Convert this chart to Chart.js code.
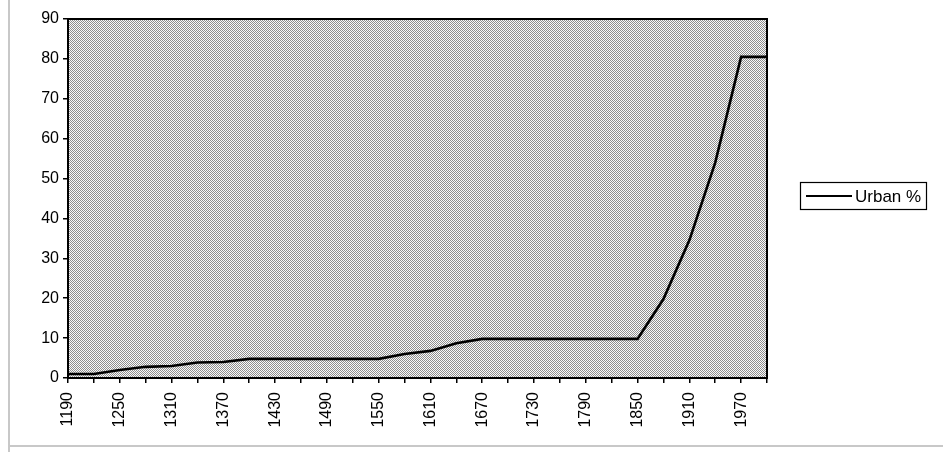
<!DOCTYPE html>
<html lang="en">
<head>
  <meta charset="UTF-8" />
  <title>Urban %</title>
  <style>
    body { margin: 0; background: #fff; }
    #wrap { width: 943px; height: 452px; position: relative; }
  </style>
</head>
<body>
  <div id="wrap">
    <canvas id="myChart" width="943" height="452"></canvas>
  </div>

  <script src="https://cdn.jsdelivr.net/npm/chart.js"></script>
  <script>
    // years (every 30 years), only every 2nd one gets a label
    const years = [1190, 1220, 1250, 1280, 1310, 1340, 1370, 1400, 1430, 1460,
      1490, 1520, 1550, 1580, 1610, 1640, 1670, 1700, 1730, 1760,
      1790, 1820, 1850, 1880, 1910, 1940, 1970, 2000];
    const urbanPct = [1, 1, 2, 2.8, 3, 3.9, 4, 4.8, 4.8, 4.8,
      4.8, 4.8, 4.8, 6, 6.8, 8.7, 9.8, 9.8, 9.8, 9.8,
      9.8, 9.8, 9.8, 19.8, 34.5, 54, 80.5, 80.5];
    const yTicks = [0, 10, 20, 30, 40, 50, 60, 70, 80, 90];
    const seriesName = 'Urban %';

    const FONT = '"Liberation Sans", Arial, sans-serif';

    // halftone-ish background like the scan
    function makePattern() {
      const c = document.createElement('canvas');
      c.width = 2; c.height = 2;
      const g = c.getContext('2d');
      g.fillStyle = '#fafafa';
      g.fillRect(0, 0, 2, 2);
      g.fillStyle = '#8e8e8e';
      g.fillRect(0, 0, 1, 1);
      g.fillRect(1, 1, 1, 1);
      return g.createPattern(c, 'repeat');
    }

    const framePlugin = {
      id: 'frame',
      beforeDraw(chart) {
        const { ctx, chartArea: a } = chart;
        ctx.save();
        ctx.fillStyle = makePattern();
        ctx.fillRect(a.left, a.top, a.right - a.left, a.bottom - a.top);
        // scan edges
        ctx.strokeStyle = '#c8c8c8';
        ctx.lineWidth = 2;
        ctx.beginPath();
        ctx.moveTo(9, 0); ctx.lineTo(9, 452);
        ctx.moveTo(9, 446); ctx.lineTo(943, 446);
        ctx.stroke();
        ctx.restore();
      },
      afterDraw(chart) {
        const { ctx, chartArea: a } = chart;
        ctx.save();
        ctx.strokeStyle = '#000';
        ctx.lineWidth = 2;
        ctx.strokeRect(a.left, a.top, a.right - a.left, a.bottom - a.top);

        // legend box
        ctx.lineWidth = 1.2;
        ctx.strokeRect(800.5, 182.5, 126, 27);
        ctx.lineWidth = 2;
        ctx.beginPath();
        ctx.moveTo(806, 196); ctx.lineTo(852, 196);
        ctx.stroke();
        ctx.fillStyle = '#000';
        ctx.font = '17px ' + FONT;
        ctx.textBaseline = 'middle';
        ctx.fillText(chart.data.datasets[0].label, 855, 197);
        ctx.restore();
      }
    };

    const context = document.getElementById('myChart').getContext('2d');
    const myChart = new Chart(context, {
      type: 'line',
      data: {
        labels: years,
        datasets: [{
          label: seriesName,
          data: urbanPct,
          borderColor: '#000',
          borderWidth: 2.6,
          pointRadius: 0,
          tension: 0,
          fill: false
        }]
      },
      options: {
        responsive: false,
        animation: false,
        layout: { padding: { left: 10, top: 19, right: 176, bottom: 0 } },
        plugins: {
          legend: { display: false },
          tooltip: { enabled: false }
        },
        scales: {
          x: {
            offset: false,
            grid: { drawOnChartArea: false, color: '#000', tickLength: 5, lineWidth: 1.5 },
            border: { color: '#000', width: 2 },
            ticks: {
              autoSkip: false,
              minRotation: 90,
              maxRotation: 90,
              color: '#000',
              padding: 9,
              font: { family: FONT, size: 16 },
              callback: (v, i) => (i % 2 === 0 ? years[i] : '')
            },
            afterFit: (s) => { s.height = 74; }
          },
          y: {
            min: yTicks[0],
            max: yTicks[yTicks.length - 1],
            afterBuildTicks: (s) => { s.ticks = yTicks.map(v => ({ value: v })); },
            grid: { drawOnChartArea: false, color: '#000', tickLength: 5, lineWidth: 1.5 },
            border: { color: '#000', width: 2 },
            ticks: {
              color: '#000',
              padding: 4,
              font: { family: FONT, size: 16 }
            },
            afterFit: (s) => { s.width = 58; }
          }
        }
      },
      plugins: [framePlugin]
    });
  </script>
</body>
</html>
